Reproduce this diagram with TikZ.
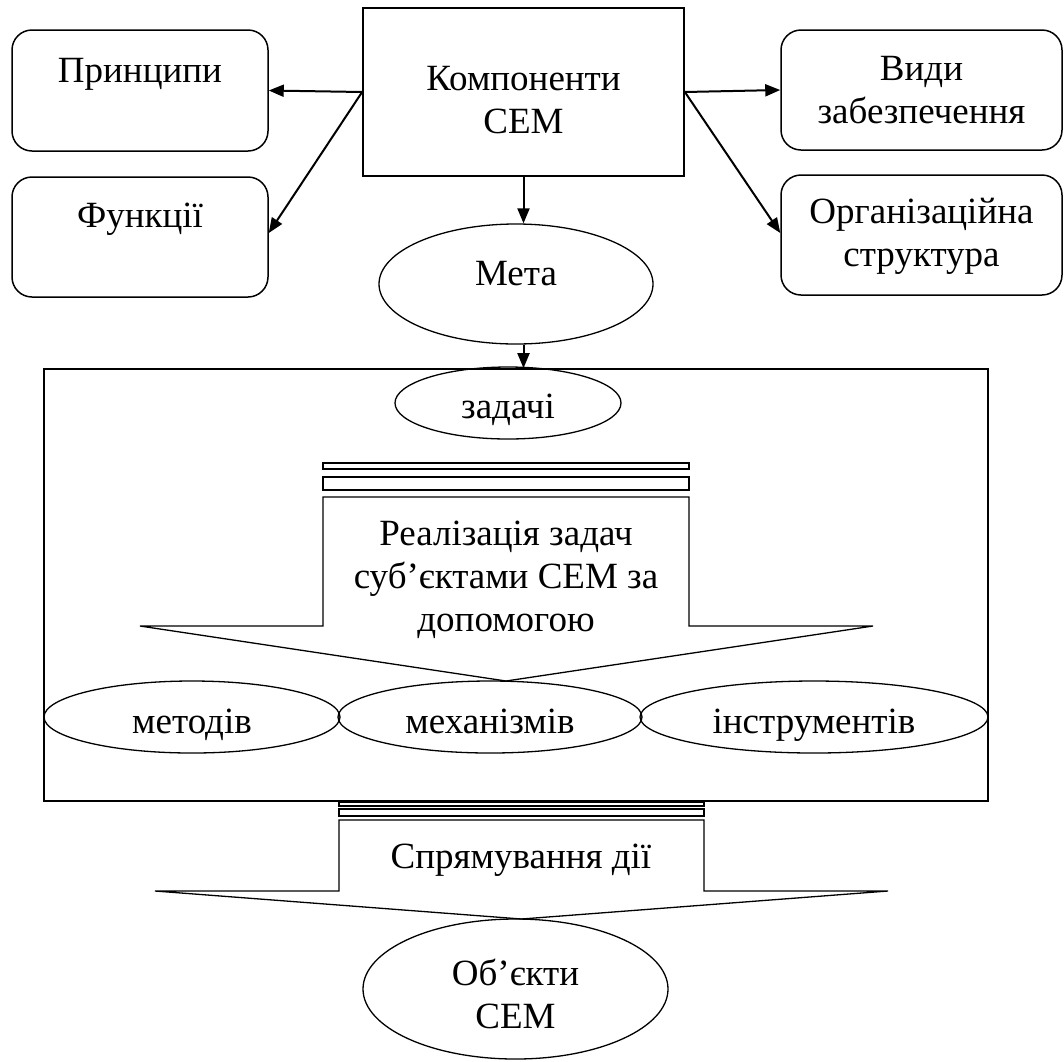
\documentclass[tikz,border=0pt]{standalone}
\usepackage{fontspec}
\setmainfont{Liberation Serif}
\usetikzlibrary{arrows.meta,shapes.geometric}
\newcommand\txtat[2]{\raisebox{#1}[0pt][0pt]{\begin{tabular}[t]{@{}c@{}}#2\end{tabular}}}
\tikzset{
  sqbox/.style={draw, line width=1.7pt, inner sep=0pt},
  rbox/.style={draw, line width=1.5pt, rounded corners=20pt, inner sep=0pt},
  oval/.style={draw, ellipse, line width=1.3pt, inner sep=0pt},
  blockarrow/.style={draw, line width=1.3pt},
  bar/.style={draw, line width=1.3pt},
  conn/.style={line width=2pt, -{Triangle[length=15pt,width=12pt]}},
  lbl/.style={anchor=base, inner sep=0pt}
}
\begin{document}
\begin{tikzpicture}[x=1pt, y=-1pt, font=\fontsize{37}{43}\selectfont]
\useasboundingbox (0,0) rectangle (1064,1061);
% top boxes
\node[sqbox, minimum width=321pt, minimum height=168pt] (komp) at (523.5,92) {\txtat{2pt}{Компоненти\\СЕМ}};
\node[rbox, minimum width=256pt, minimum height=121pt] (pr) at (140,90.5) {\txtat{8.5pt}{Принципи}};
\node[rbox, minimum width=256pt, minimum height=120pt] (fn) at (140,237) {\txtat{10pt}{Функції}};
\node[rbox, minimum width=281pt, minimum height=120pt] (vz) at (921.5,90) {\txtat{10pt}{Види\\забезпечення}};
\node[rbox, minimum width=281pt, minimum height=120pt] (org) at (921.5,235) {\txtat{12pt}{Організаційна\\структура}};
\node[oval, minimum width=274pt, minimum height=120pt] (meta) at (516,284) {\txtat{-1pt}{Мета}};
% connectors
\draw[conn] (komp.west) -- (pr.east);
\draw[conn] (komp.west) -- ([yshift=4pt]fn.east);
\draw[conn] (komp.east) -- (vz.west);
\draw[conn] (komp.east) -- ([yshift=2pt]org.west);
\draw[conn] (komp.south) -- (meta.north -| komp.south);
% big frame
\node[sqbox, minimum width=944pt, minimum height=432pt] (big) at (516,585) {};
\draw[conn] (meta.south -| komp.south) -- (big.north -| komp.south);
\node[oval, minimum width=226pt, minimum height=72pt] (zad) at (508,403) {\txtat{-15pt}{задачі}};
% block arrow 1
\draw[bar] (323,463) rectangle (689,469);
\draw[bar] (323,477) rectangle (689,490);
\draw[blockarrow] (323,497) -- (689,497) -- (689,626) -- (873,626) -- (506,681) -- (140,626) -- (323,626) -- cycle;
\node[lbl] (real) at (506,545) {\begin{tabular}[t]{@{}c@{}}Реалізація задач\\суб’єктами СЕМ за\\допомогою\end{tabular}};
% three ovals
\node[oval, minimum width=296pt, minimum height=72pt] (met) at (192,717) {\txtat{-16pt}{методів}};
\node[oval, minimum width=304pt, minimum height=72pt] (mech) at (490,717) {\txtat{-16pt}{механізмів}};
\node[oval, minimum width=348pt, minimum height=72pt] (instr) at (814,717) {\txtat{-16pt}{інструментів}};
% block arrow 2
\draw[bar] (339,802) rectangle (704,806);
\draw[bar] (339,809) rectangle (704,816);
\draw[blockarrow] (339,820) -- (704,820) -- (704,891) -- (888,891) -- (521.5,919) -- (155,891) -- (339,891) -- cycle;
\node[lbl] (spr) at (521,868) {Спрямування дії};
\node[oval, minimum width=305pt, minimum height=140pt] (obj) at (515.5,989) {\txtat{4pt}{Об’єкти\\СЕМ}};
\end{tikzpicture}
\end{document}
